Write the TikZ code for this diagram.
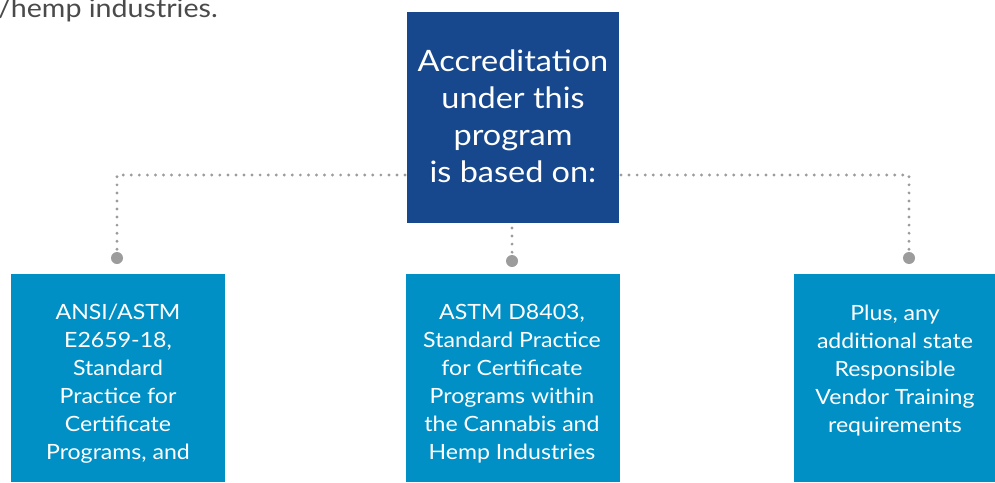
\documentclass[tikz,border=0pt]{standalone}
\usepackage{fontspec}
\setmainfont{Lato}[FakeStretch=1.1]
\definecolor{darkblue}{HTML}{17478C}
\definecolor{lightblue}{HTML}{0090C5}
\definecolor{dotgrey}{HTML}{9C9C9C}
\definecolor{textgrey}{HTML}{4A4A4A}
\begin{document}
\begin{tikzpicture}[x=1pt,y=-1pt,
  topbox/.style={fill=darkblue, inner sep=0pt},
  botbox/.style={fill=lightblue, inner sep=0pt},
  boxtext/.style={text=white, align=center, font=\fontsize{21}{28}\selectfont},
  toptext/.style={text=white, align=center, font=\fontsize{29.5}{37}\selectfont},
  dotline/.style={draw=dotgrey, line width=3.2pt, line cap=round, dash pattern=on 0pt off 8.05pt},
  enddot/.style={fill=dotgrey}
]
\useasboundingbox (0,0) rectangle (995,482);
\node[anchor=base east, text=textgrey, font=\fontsize{26}{30}\selectfont, inner sep=0pt] (intro) at (218,17.5) {/hemp industries.};

% boxes
\fill[topbox] (407,12) rectangle (619,223);
\fill[botbox] (11,274) rectangle (225,482);
\fill[botbox] (406,274) rectangle (620,482);
\fill[botbox] (794,274) rectangle (1000,482);

\node[toptext] (toptxt) at (513,116) {Accreditation\\under this\\program\\is based on:};
\node[boxtext] (b1) at (118,384) {ANSI/ASTM\\E2659-18,\\Standard\\Practice for\\Certificate\\Programs, and};
\node[boxtext] (b2) at (512,384) {ASTM D8403,\\Standard Practice\\for Certificate\\Programs within\\the Cannabis and\\Hemp Industries};
\node[boxtext] (b3) at (895,371) {Plus, any\\additional state\\Responsible\\Vendor Training\\requirements};

% connectors
\coordinate (lstart) at (405,175);
\coordinate (lcorner) at (117,175);
\coordinate (lend) at (117,252);
\coordinate (rstart) at (621,175);
\coordinate (rcorner) at (909,175);
\coordinate (rend) at (909,252);
\coordinate (mstart) at (512,228);
\coordinate (mend) at (512,254);
\draw[dotline] (lstart) -- (lcorner) -- (lend);
\draw[dotline] (rstart) -- (rcorner) -- (rend);
\draw[dotline] (mstart) -- (mend);
\fill[enddot] (117,258) circle (6);
\fill[enddot] (909,258) circle (6);
\fill[enddot] (512,261) circle (6);
\end{tikzpicture}
\end{document}
